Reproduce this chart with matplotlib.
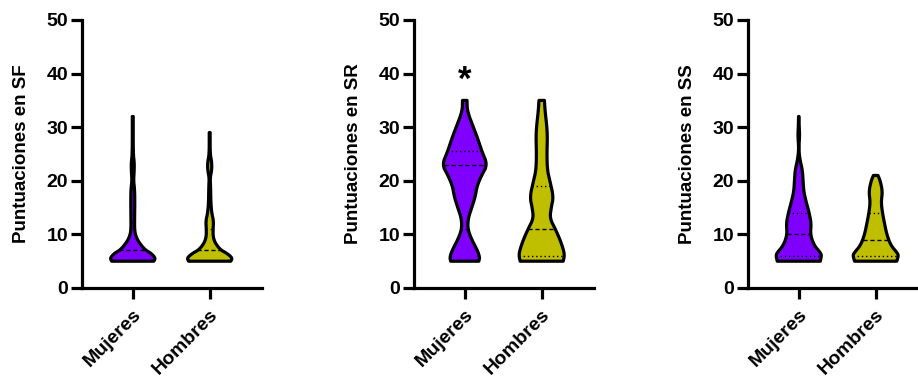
import matplotlib
matplotlib.use("Agg")
import matplotlib.pyplot as plt
import numpy as np

plt.rcParams['font.family'] = ['Liberation Sans', 'DejaVu Sans']
plt.rcParams['font.weight'] = 'bold'

categories = ["Mujeres", "Hombres"]
colors = ["#8000FF", "#BFBF00"]
ylabels = ["Puntuaciones en SF", "Puntuaciones en SR", "Puntuaciones en SS"]

# violin outlines: score level and relative half width
sf_muj_y = [5, 5.6, 6.5, 7.1, 8.4, 9.6, 10.8, 13, 16, 18.5, 20, 22, 23.5, 25, 32]
sf_muj_w = [0.93, 1.0, 0.8, 0.55, 0.29, 0.14, 0.08, 0.08, 0.09, 0.08, 0.035, 0.065, 0.065, 0.02, 0.02]
sf_hom_y = [5, 5.6, 6.5, 7.1, 8.4, 9.6, 11, 12.5, 14, 16, 19, 20.5, 22, 23.5, 25, 29]
sf_hom_w = [0.93, 1.0, 0.75, 0.48, 0.24, 0.15, 0.15, 0.17, 0.09, 0.05, 0.04, 0.02, 0.09, 0.09, 0.02, 0.02]

sr_muj_y = [5, 5.7, 7, 9, 11, 13, 15, 17, 19, 21, 23, 25.5, 28, 30, 33, 35]
sr_muj_w = [0.62, 0.66, 0.56, 0.31, 0.13, 0.15, 0.31, 0.46, 0.54, 0.74, 1.0, 0.755, 0.56, 0.38, 0.11, 0.1]
sr_hom_y = [5, 6, 7, 9, 11, 13, 15, 17, 20, 22, 25, 28, 30, 33, 35]
sr_hom_w = [0.95, 1.0, 0.97, 0.81, 0.6, 0.36, 0.42, 0.52, 0.36, 0.25, 0.23, 0.25, 0.23, 0.15, 0.12]

ss_muj_y = [5, 6, 6.5, 8, 10, 12, 14, 16, 18, 20, 22, 24, 26, 28.5, 30, 32]
ss_muj_w = [0.95, 1.0, 0.97, 0.67, 0.51, 0.55, 0.46, 0.33, 0.22, 0.19, 0.16, 0.05, 0.0, 0.04, 0.02, 0.01]
ss_hom_y = [5, 6, 6.5, 8, 10, 12, 14, 16, 18, 20, 21]
ss_hom_w = [0.93, 1.0, 0.96, 0.66, 0.49, 0.39, 0.3, 0.24, 0.3, 0.2, 0.1]

profiles = [
    [(sf_muj_y, sf_muj_w), (sf_hom_y, sf_hom_w)],
    [(sr_muj_y, sr_muj_w), (sr_hom_y, sr_hom_w)],
    [(ss_muj_y, ss_muj_w), (ss_hom_y, ss_hom_w)],
]

# median, lower and upper quartile per group
medians = [[7, 7], [23, 11], [10, 9]]
q1 = [[5, 5], [11, 6], [6, 6]]
q3 = [[12.4, 11], [25.5, 19], [14, 14]]

HALF = 0.295


def smooth(y, w, n=2):
	# chaikin corner cutting, keeps end points
	pts = np.column_stack([y, w]).astype(float)
	for _ in range(n):
		q = 0.75 * pts[:-1] + 0.25 * pts[1:]
		r = 0.25 * pts[:-1] + 0.75 * pts[1:]
		mid = np.empty((2 * len(q), 2))
		mid[0::2] = q
		mid[1::2] = r
		pts = np.vstack([pts[:1], mid, pts[-1:]])
	return pts[:, 0], pts[:, 1]


def draw_violin(ax, pos, y, w, color, med, lo, hi):
	ys, ws = smooth(y, w)
	xs = np.concatenate([pos - ws * HALF, (pos + ws * HALF)[::-1]])
	yy = np.concatenate([ys, ys[::-1]])
	ax.fill(xs, yy, facecolor=color, edgecolor="black", linewidth=2.3,
			joinstyle="round", zorder=3)
	for val, style in ((med, (0, (3, 2))), (lo, (0, (1, 2))), (hi, (0, (1, 2)))):
		hw = np.interp(val, ys, ws) * HALF
		if hw > 0.02 and val > y[0] + 0.3:
			ax.plot([pos - hw, pos + hw], [val, val], color="black", lw=1.0,
					linestyle=style, zorder=4)


fig = plt.figure(figsize=(9.18, 3.76), dpi=100)
lefts = [82, 414, 748]

for i in range(3):
	ax = fig.add_axes([lefts[i] / 918, 88 / 376, 180 / 918, 268 / 376])
	for j in range(2):
		y, w = profiles[i][j]
		draw_violin(ax, j, y, w, colors[j], medians[i][j], q1[i][j], q3[i][j])
	ax.set_xlim(-0.66, 1.68)
	ax.set_ylim(0, 50)
	ax.set_yticks([0, 10, 20, 30, 40, 50])
	ax.set_xticks([0, 1])
	ax.set_xticklabels(categories, rotation=45, ha="right", rotation_mode="anchor")
	ax.tick_params(axis="both", width=2.3, length=8, labelsize=14, pad=2)
	ax.tick_params(axis="x", pad=5)
	for s in ("top", "right"):
		ax.spines[s].set_visible(False)
	for s in ("left", "bottom"):
		ax.spines[s].set_linewidth(2.3)
	ax.set_ylabel(ylabels[i], fontsize=13.5, fontweight="bold", labelpad=12)
	ax.patch.set_alpha(0)
	if i == 1:
		ax.text(0, 38.8, "*", fontsize=25, fontweight="bold", ha="center", va="center")

fig.savefig("out.png", dpi=100)
